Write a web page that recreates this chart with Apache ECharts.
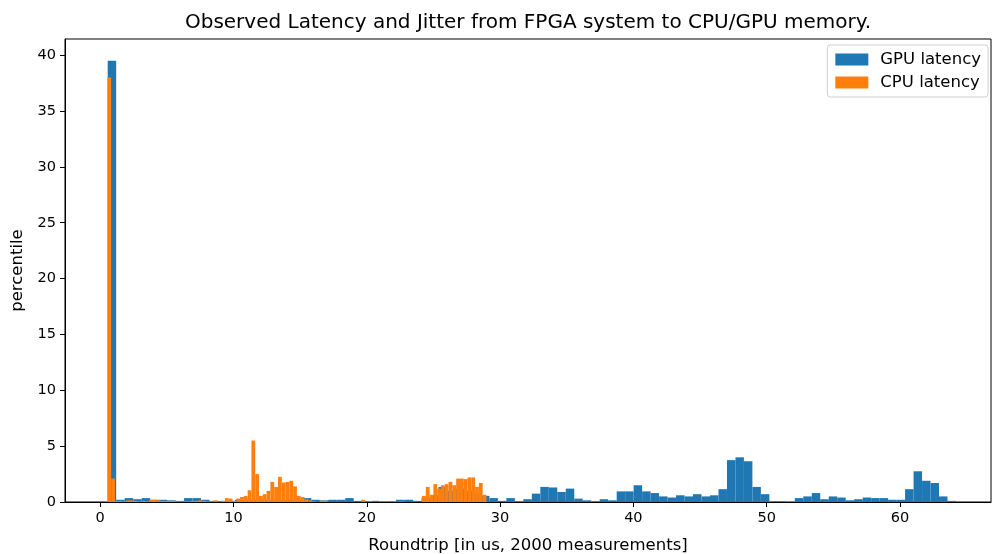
<!DOCTYPE html>
<html>
<head>
<meta charset="utf-8">
<script src="https://cdn.jsdelivr.net/npm/echarts@6/dist/echarts.min.js"></script>
<style>
  html, body { margin: 0; padding: 0; background: #fff; }
  #main { width: 992px; height: 554px; }
</style>
</head>
<body>
<div id="main"></div>
<script>
/*********** histogram data (percent of 2000 measurements per bin) ***********/
var gpuStart = 0.563, gpuBinWidth = 0.6364;
var cpuStart = 0.54, cpuBinWidth = 0.2844;

var gpuLatency = [
  39.5, 0.2, 0.35, 0.25, 0.35, 0.2, 0.2, 0.15, 0.1, 0.35,
  0.35, 0.2, 0.1, 0.1, 0.1, 0.2, 0.2, 0.2, 0.2, 0.2,
  0.2, 0.2, 0.2, 0.35, 0.2, 0.15, 0.2, 0.2, 0.35, 0.1,
  0.05, 0.1, 0, 0, 0.2, 0.2, 0.1, 0.4, 0.6, 1.35,
  1.0, 1.2, 1.0, 0.8, 0.55, 0.35, 0.1, 0.35, 0.05, 0.25,
  0.75, 1.35, 1.3, 0.9, 1.2, 0.3, 0.15, 0.05, 0.25, 0.15,
  0.95, 0.95, 1.5, 0.95, 0.8, 0.5, 0.4, 0.6, 0.5, 0.7,
  0.5, 0.6, 1.15, 3.75, 4.0, 3.65, 1.35, 0.7, 0.05, 0.05,
  0, 0.35, 0.5, 0.8, 0.25, 0.5, 0.4, 0.15, 0.25, 0.4,
  0.35, 0.35, 0.2, 0.2, 1.15, 2.75, 1.9, 1.7, 0.5, 0.1
];

var cpuLatency = [
  38.0, 2.1, 0.1, 0.1, 0.05, 0.15, 0.15, 0.1, 0.05, 0.1,
  0.05, 0.2, 0.2, 0.15, 0.1, 0.1, 0.1, 0.1, 0.05, 0.05,
  0.05, 0.05, 0.1, 0.1, 0.15, 0.1, 0.05, 0.05, 0.15, 0.05,
  0.1, 0.35, 0.3, 0.1, 0.3, 0.45, 0.55, 1.05, 5.5, 2.5,
  0.55, 0.7, 1.0, 1.8, 1.35, 2.25, 1.75, 1.8, 1.9, 1.4,
  0.55, 0.45, 0.25, 0.15, 0.05, 0, 0.1, 0.1, 0, 0,
  0, 0, 0, 0, 0, 0, 0, 0.2, 0, 0.05,
  0, 0, 0, 0, 0, 0, 0, 0.05, 0, 0,
  0, 0, 0, 0.55, 1.35, 0.65, 1.6, 1.2, 1.5, 1.6,
  1.8, 1.5, 2.1, 2.1, 2.05, 2.2, 2.2, 1.35, 1.7, 0.65
];

var xTicks = [0, 10, 20, 30, 40, 50, 60];
var yTicks = [0, 5, 10, 15, 20, 25, 30, 35, 40];

// [left edge, right edge, height] per bin
function toBins(start, width, heights) {
  var out = [];
  for (var i = 0; i < heights.length; i++) {
    out.push([start + i * width, start + (i + 1) * width, heights[i]]);
  }
  return out;
}

function renderBin(params, api) {
  var h = api.value(2);
  if (!h) return null;
  var p0 = api.coord([api.value(0), h]);
  var p1 = api.coord([api.value(1), 0]);
  return {
    type: 'rect',
    shape: { x: p0[0], y: p0[1], width: p1[0] - p0[0], height: p1[1] - p0[1] },
    style: { fill: api.visual('color') }
  };
}

var font = 'DejaVu Sans';
var myChart = echarts.init(document.getElementById('main'), null, { renderer: 'canvas' });

var option = {
  backgroundColor: '#fff',
  animation: false,
  title: {
    text: 'Observed Latency and Jitter from FPGA system to CPU/GPU memory.',
    left: 523,
    textAlign: 'center',
    top: 8,
    textStyle: { fontFamily: font, fontSize: 20, fontWeight: 'normal', color: '#000' }
  },
  legend: {
    orient: 'vertical',
    right: 4,
    top: 45,
    icon: 'rect',
    itemWidth: 33,
    itemHeight: 12,
    itemGap: 6,
    padding: [6, 7, 6, 8],
    borderColor: '#d0d0d0',
    borderWidth: 1,
    borderRadius: 3,
    backgroundColor: 'rgba(255,255,255,0.8)',
    textStyle: { fontFamily: font, fontSize: 16.5, color: '#000', padding: [0, 0, 0, 7] },
    data: ['GPU latency', 'CPU latency']
  },
  grid: {
    left: 65, right: 1, top: 39, bottom: 52,
    outerBoundsMode: 'none',
    show: true, borderColor: '#000', borderWidth: 1, backgroundColor: 'transparent'
  },
  xAxis: {
    type: 'value',
    min: -2.64,
    max: 66.83,
    name: 'Roundtrip [in us, 2000 measurements]',
    nameLocation: 'middle',
    nameGap: 35,
    nameTextStyle: { fontFamily: font, fontSize: 16.5, color: '#000' },
    axisLine: { show: true, onZero: false, lineStyle: { color: '#000' } },
    axisTick: { show: true, length: 5, customValues: xTicks, lineStyle: { color: '#000' } },
    axisLabel: { customValues: xTicks, margin: 9, fontFamily: font, fontSize: 14.5, color: '#000' },
    splitLine: { show: false }
  },
  yAxis: {
    type: 'value',
    min: 0,
    max: 41.45,
    name: 'percentile',
    nameLocation: 'middle',
    nameGap: 37,
    nameTextStyle: { fontFamily: font, fontSize: 16.5, color: '#000' },
    axisLine: { show: true, onZero: false, lineStyle: { color: '#000' } },
    axisTick: { show: true, length: 5, customValues: yTicks, lineStyle: { color: '#000' } },
    axisLabel: { customValues: yTicks, margin: 9, fontFamily: font, fontSize: 14.5, color: '#000' },
    splitLine: { show: false }
  },
  series: [
    {
      name: 'GPU latency',
      type: 'custom',
      renderItem: renderBin,
      itemStyle: { color: '#1f77b4' },
      encode: { x: [0, 1], y: 2 },
      data: toBins(gpuStart, gpuBinWidth, gpuLatency)
    },
    {
      name: 'CPU latency',
      type: 'custom',
      renderItem: renderBin,
      itemStyle: { color: '#ff7f0e' },
      encode: { x: [0, 1], y: 2 },
      data: toBins(cpuStart, cpuBinWidth, cpuLatency)
    }
  ]
};

myChart.setOption(option);
</script>
</body>
</html>
